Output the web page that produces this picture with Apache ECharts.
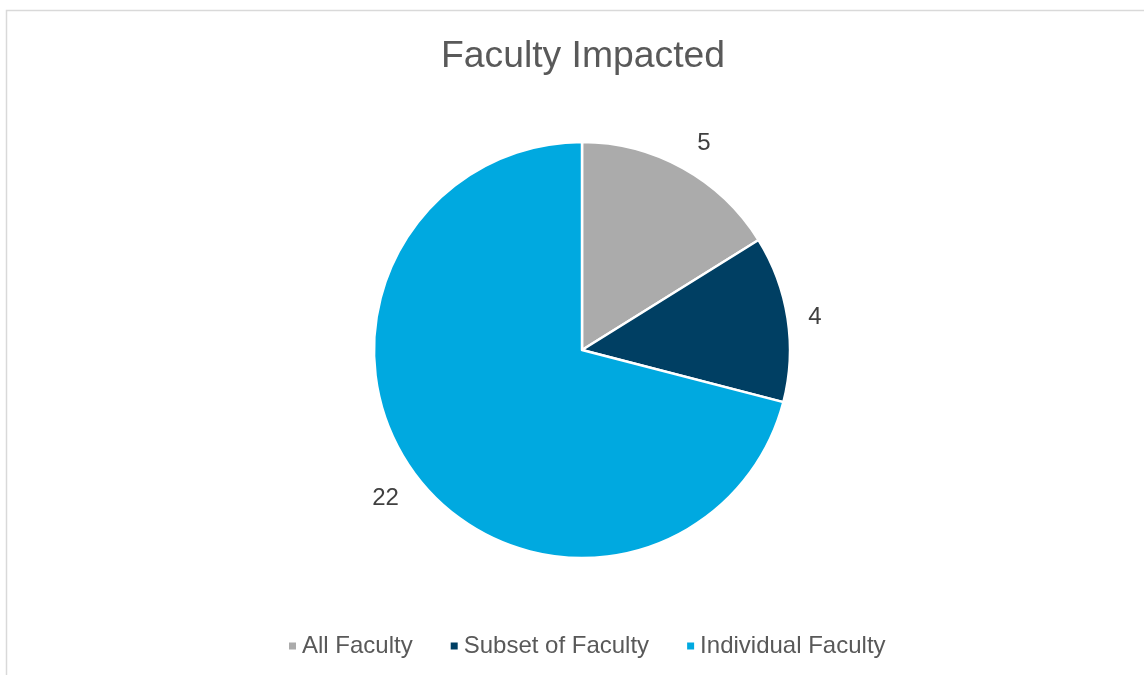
<!DOCTYPE html>
<html>
<head>
<meta charset="utf-8">
<script src="https://cdn.jsdelivr.net/npm/echarts@6/dist/echarts.min.js"></script>
<style>
html,body{margin:0;padding:0;background:#fff;}
#c{width:1144px;height:675px;}
</style>
</head>
<body>
<div id="c"></div>
<script>
const categories = ["All Faculty", "Subset of Faculty", "Individual Faculty"];
const values = [5, 4, 22];
const colors = ["#ABABAB", "#003F63", "#00A9E0"];
const titleText = "Faculty Impacted";

const labelNudges = [[-1, -6], [-5, 2], [3, 8]];

const chart = echarts.init(document.getElementById('c'));
chart.setOption({
  animation: false,
  backgroundColor: '#fff',
  graphic: [{
    type: 'rect',
    shape: { x: 6.5, y: 10.5, width: 1200, height: 700 },
    style: { fill: 'none', stroke: '#d9d9d9', lineWidth: 1.5 },
    silent: true
  }],
  title: {
    text: titleText,
    left: 436,
    top: 33,
    textStyle: { fontFamily: 'Liberation Sans, Arial, sans-serif', fontSize: 37.3, fontWeight: 'normal', color: '#595959' }
  },
  legend: {
    data: categories,
    top: 629,
    left: 282,
    icon: 'rect',
    itemWidth: 9,
    itemHeight: 9,
    itemGap: 36,
    textStyle: { fontFamily: 'Liberation Sans, Arial, sans-serif', fontSize: 24, color: '#595959' }
  },
  series: [{
    type: 'pie',
    center: [582, 350],
    radius: 208,
    startAngle: 90,
    clockwise: true,
    data: categories.map((c, i) => ({
      name: c, value: values[i],
      itemStyle: { color: colors[i] },
      label: { offset: labelNudges[i] }
    })),
    itemStyle: { borderColor: '#fff', borderWidth: 2.5 },
    label: {
      show: true,
      position: 'outside',
      formatter: '{c}',
      fontFamily: 'Liberation Sans, Arial, sans-serif',
      fontSize: 24,
      color: '#404040'
    },
    labelLine: { show: false, length: 21, length2: 0 },
    emphasis: { disabled: true }
  }]
});
</script>
</body>
</html>
